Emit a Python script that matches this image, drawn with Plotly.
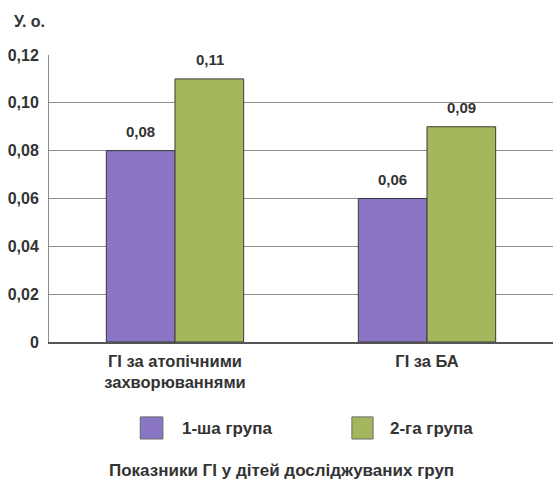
import plotly.graph_objects as go

categories = ["ГІ за атопічними<br>захворюваннями", "ГІ за БА"]
series_names = ["1-ша група", "2-га група"]
group1 = [0.08, 0.06]
group2 = [0.11, 0.09]
y_ticks = [0, 0.02, 0.04, 0.06, 0.08, 0.10, 0.12]
y_tick_labels = ["0", "0,02", "0,04", "0,06", "0,08", "0,10", "0,12"]

colors = ["#8a76c4", "#a3b85c"]
font_family = "Liberation Sans, Arial, sans-serif"
text_color = "#333333"


def fmt(v):
    return f"{v:.2f}".replace(".", ",")


fig = go.Figure()
for name, vals, col in zip(series_names, [group1, group2], colors):
    fig.add_trace(go.Bar(
        x=categories, y=vals, name=name,
        marker=dict(color=col, line=dict(color="#3a3a3a", width=1)),
        showlegend=False,
    ))

# value labels above each bar
for vals, shift in zip([group1, group2], [-34.5, 34.5]):
    for cat, v in zip(categories, vals):
        fig.add_annotation(
            x=cat, y=v, xshift=shift, yshift=9, yanchor="bottom",
            text=f"<b>{fmt(v)}</b>", showarrow=False,
            font=dict(size=15, color=text_color, family=font_family),
        )

fig.update_layout(
    width=553, height=486,
    margin=dict(l=49, r=0, t=55, b=144),
    paper_bgcolor="white", plot_bgcolor="white",
    barmode="group", bargap=0.455, bargroupgap=0,
    font=dict(family=font_family, color=text_color),
    showlegend=False,
)
fig.update_xaxes(
    range=[-0.5, 1.5], showgrid=False,
    showline=True, linecolor="#555555", linewidth=1.5,
    tickvals=categories, ticktext=[f"<b>{c}</b>" for c in categories],
    tickfont=dict(size=16.5, color=text_color, family=font_family),
    ticklabelstandoff=3,
)
fig.update_yaxes(
    range=[0, 0.12], tickvals=y_ticks, ticktext=[f"<b>{t}</b>" for t in y_tick_labels],
    showgrid=True, gridcolor="#8c8c8c", gridwidth=1,
    showline=True, linecolor="#8c8c8c", linewidth=1,
    zeroline=False,
    tickfont=dict(size=16, color=text_color, family=font_family),
    ticklabelstandoff=6,
)

# axis unit label
fig.add_annotation(
    text="<b>У. о.</b>", xref="paper", yref="paper", x=-0.074, y=1.115,
    xanchor="left", yanchor="middle", showarrow=False,
    font=dict(size=16, color=text_color, family=font_family),
)

# legend: coloured squares with series names
square_x = [(0.181, 0.226), (0.601, 0.643)]
label_x = [0.26, 0.673]
for name, col, (sx0, sx1), lx in zip(series_names, colors, square_x, label_x):
    fig.add_shape(
        type="rect", xref="paper", yref="paper",
        x0=sx0, x1=sx1, y0=-0.338, y1=-0.261,
        fillcolor=col, line=dict(color="#6a6a6a", width=1),
    )
    fig.add_annotation(
        text=f"<b>{name}</b>", xref="paper", yref="paper",
        x=lx, y=-0.30, xanchor="left", yanchor="middle", showarrow=False,
        font=dict(size=17, color=text_color, family=font_family),
    )

# caption
fig.add_annotation(
    text="<b>Показники ГІ у дітей досліджуваних груп</b>",
    xref="paper", yref="paper", x=0.462, y=-0.446,
    xanchor="center", yanchor="middle", showarrow=False,
    font=dict(size=17, color=text_color, family=font_family),
)

fig.write_html("out.html")
